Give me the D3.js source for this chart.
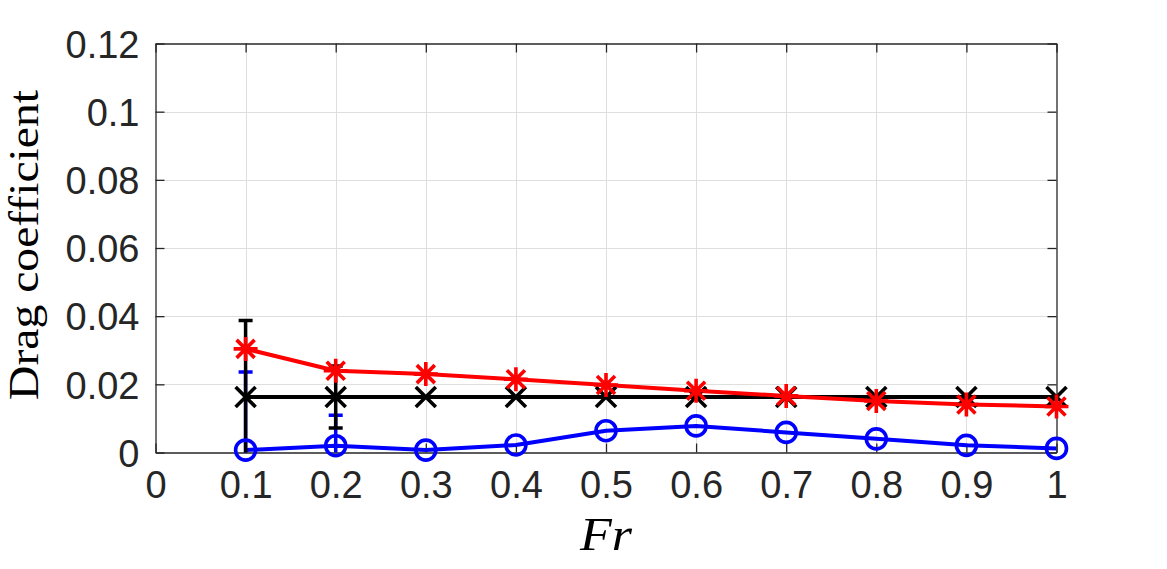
<!DOCTYPE html>
<html>
<head>
<meta charset="utf-8">
<script src="https://cdn.jsdelivr.net/npm/d3@7"></script>
<style>
  body { margin: 0; background: #fff; }
  svg { display: block; }
</style>
</head>
<body>
<div id="chart"></div>
<script>
// Froude numbers
const fr = [0.1, 0.2, 0.3, 0.4, 0.5, 0.6, 0.7, 0.8, 0.9, 1.0];
// drag coefficient series
const blueVals  = [0.0007, 0.0020, 0.0007, 0.0022, 0.0064, 0.0078, 0.0059, 0.0040, 0.0021, 0.0012];
const blueErr   = [0.0229, 0.0089, 0, 0, 0, 0, 0, 0, 0, 0];
const blackVals = [0.0163, 0.0163, 0.0163, 0.0163, 0.0163, 0.0163, 0.0163, 0.0163, 0.0163, 0.0163];
const blackErr  = [0.0224, 0.0091, 0, 0, 0, 0, 0, 0, 0, 0];
const redVals   = [0.0304, 0.0240, 0.0230, 0.0215, 0.0198, 0.0181, 0.0166, 0.0151, 0.0141, 0.0135];
const xTicks = [0, 0.1, 0.2, 0.3, 0.4, 0.5, 0.6, 0.7, 0.8, 0.9, 1];
const yTicks = [0, 0.02, 0.04, 0.06, 0.08, 0.1, 0.12];

const params = { width: 1167, height: 569, left: 155.5, right: 1056.5, top: 43.5, bottom: 452.5 };
const axisColor = "#262626";

const svg = d3.select("#chart").append("svg")
	.attr("width", params.width)
	.attr("height", params.height);

const xScale = d3.scaleLinear().domain([0, 1]).range([params.left, params.right]);
const yScale = d3.scaleLinear().domain([0, 0.12]).range([params.bottom, params.top]);

// grid
const grid = svg.append("g").attr("stroke", "#dedede").attr("stroke-width", 1);
grid.selectAll(".gx").data(xTicks.slice(1, -1)).join("line")
	.attr("x1", d => Math.round(xScale(d)) + 0.5).attr("x2", d => Math.round(xScale(d)) + 0.5)
	.attr("y1", params.top).attr("y2", params.bottom);
grid.selectAll(".gy").data(yTicks.slice(1, -1)).join("line")
	.attr("y1", d => Math.round(yScale(d)) + 0.5).attr("y2", d => Math.round(yScale(d)) + 0.5)
	.attr("x1", params.left).attr("x2", params.right);

// axes (ticks inside)
const tickLen = 9;
const xAxis = svg.append("g").attr("transform", `translate(0,${params.bottom})`)
	.call(d3.axisBottom(xScale).tickValues(xTicks).tickSizeInner(-tickLen).tickSizeOuter(0)
		.tickPadding(19).tickFormat(d => d3.format("")(d)));
const xAxisTop = svg.append("g").attr("transform", `translate(0,${params.top})`)
	.call(d3.axisTop(xScale).tickValues(xTicks).tickSizeInner(-tickLen).tickSizeOuter(0).tickFormat(""));
const yAxis = svg.append("g").attr("transform", `translate(${params.left},0)`)
	.call(d3.axisLeft(yScale).tickValues(yTicks).tickSizeInner(-tickLen).tickSizeOuter(0)
		.tickPadding(16).tickFormat(d => d3.format("")(d)));
const yAxisRight = svg.append("g").attr("transform", `translate(${params.right},0)`)
	.call(d3.axisRight(yScale).tickValues(yTicks).tickSizeInner(-tickLen).tickSizeOuter(0).tickFormat(""));

[xAxis, xAxisTop, yAxis, yAxisRight].forEach(a => {
	a.selectAll("path, line").attr("stroke", axisColor).attr("stroke-width", 1.3);
	a.selectAll("text").attr("fill", axisColor)
		.style("font-family", "'Liberation Sans', Arial, Helvetica, sans-serif")
		.style("font-size", "38px");
});
xAxis.selectAll("text").attr("dy", "0.71em");
yAxis.selectAll("text").attr("dy", "0.36em");

// data
svg.append("clipPath").attr("id", "plotClip").append("rect")
	.attr("x", params.left).attr("y", params.top)
	.attr("width", params.right - params.left).attr("height", params.bottom - params.top);
const plot = svg.append("g").attr("clip-path", "url(#plotClip)");
const outer = svg.append("g");

const line = d3.line().x(d => xScale(d.x)).y(d => yScale(d.y));

const drawSeries = (vals, errs, color, marker) => {
	const pts = fr.map((x, i) => ({ x: x, y: vals[i], e: errs ? errs[i] : 0 }));
	const g = plot.append("g");
	g.append("path").attr("d", line(pts)).attr("fill", "none")
		.attr("stroke", color).attr("stroke-width", 4).attr("stroke-linejoin", "round");
	// error bars
	const eb = g.selectAll(".eb").data(pts.filter(p => p.e > 0)).join("g")
		.attr("stroke", color).attr("stroke-width", 3.5);
	eb.append("line")
		.attr("x1", d => xScale(d.x)).attr("x2", d => xScale(d.x))
		.attr("y1", d => yScale(d.y - d.e)).attr("y2", d => yScale(d.y + d.e));
	[-1, 1].forEach(s => {
		eb.append("line")
			.attr("x1", d => xScale(d.x) - 7).attr("x2", d => xScale(d.x) + 7)
			.attr("y1", d => yScale(d.y + s * d.e)).attr("y2", d => yScale(d.y + s * d.e));
	});
	// markers (not clipped)
	const m = outer.append("g").selectAll("g").data(pts).join("g")
		.attr("transform", d => `translate(${xScale(d.x)},${yScale(d.y)})`)
		.attr("stroke", color).attr("stroke-width", 3.6).attr("fill", "none");
	if (marker === "o") {
		m.append("circle").attr("r", 10);
	} else if (marker === "x") {
		const s = 10;
		m.append("path").attr("d", `M${-s},${-s}L${s},${s}M${-s},${s}L${s},${-s}`);
	} else {
		const s = 12, d = 9;
		m.append("path").attr("d", `M0,${-s}L0,${s}M${-s},0L${s},0M${-d},${-d}L${d},${d}M${-d},${d}L${d},${-d}`);
	}
};

drawSeries(blueVals, blueErr, "#0000ff", "o");
drawSeries(blackVals, blackErr, "#000000", "x");
drawSeries(redVals, null, "#ff0000", "*");

// axis labels
svg.append("text")
	.attr("x", 606).attr("y", 550)
	.attr("text-anchor", "middle")
	.style("font-family", "'Liberation Serif', 'DejaVu Serif', serif")
	.style("font-style", "italic")
	.style("font-size", "46px")
	.attr("fill", "#000")
	.attr("textLength", 52)
	.attr("lengthAdjust", "spacingAndGlyphs")
	.text("Fr");

svg.append("text")
	.attr("transform", "translate(38,245) rotate(-90)")
	.attr("text-anchor", "middle")
	.style("font-family", "'Liberation Serif', 'DejaVu Serif', serif")
	.style("font-size", "43px")
	.attr("fill", "#000")
	.attr("textLength", 310)
	.attr("lengthAdjust", "spacingAndGlyphs")
	.text("Drag coefficient");
</script>
</body>
</html>
